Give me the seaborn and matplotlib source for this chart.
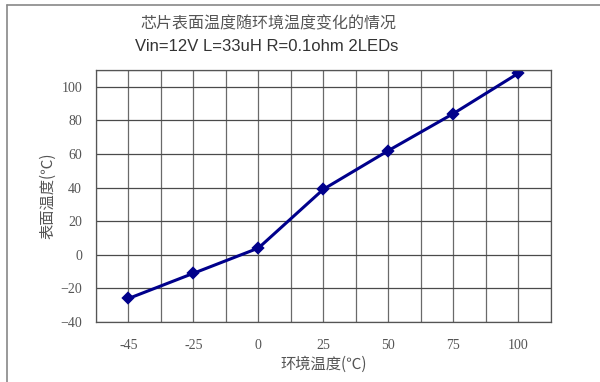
import matplotlib
matplotlib.use("Agg")
import matplotlib.pyplot as plt
from matplotlib.lines import Line2D
from matplotlib.ticker import MultipleLocator
import seaborn as sns
import pandas as pd

# ambient temperature categories and chip surface temperature
ambient = ["-45", "-25", "0", "25", "50", "75", "100"]
surface = [-26, -11, 4, 39, 62, 84, 108]
y_ticks = [-40, -20, 0, 20, 40, 60, 80, 100]

title_cn = "芯片表面温度随环境温度变化的情况"
title_en = "Vin=12V L=33uH R=0.1ohm 2LEDs"
xlabel = "环境温度(℃)"
ylabel = "表面温度(℃)"

sns.set_theme(style="white")
plt.rcParams["font.family"] = ["Noto Sans CJK SC", "DejaVu Sans"]

df = pd.DataFrame({"ambient": ambient, "surface": surface})

fig = plt.figure(figsize=(6.0, 3.82), dpi=100)
fig.patch.set_facecolor("white")
ax = fig.add_axes([0.16, 0.157, 0.758, 0.66])

sns.pointplot(data=df, x="ambient", y="surface", order=ambient,
              color="#00008B", markers="D", linestyles="-",
              markersize=5.5, linewidth=2.2, ax=ax)

ax.set_xlim(-0.5, 6.5)
ax.set_ylim(-40, 110)
ax.set_yticks(y_ticks)
ax.xaxis.set_minor_locator(MultipleLocator(0.5))

# grid: category centres and half-steps vertically, 20-degree steps horizontally
for xv in [i * 0.5 - 0.5 for i in range(15)]:
    ax.axvline(xv, color="#6a6a6a", lw=0.9, zorder=0)
for yv in y_ticks + [110]:
    ax.axhline(yv, color="#4a4a4a", lw=0.9, zorder=0)

for s in ax.spines.values():
    s.set_visible(True)
    s.set_color("#555555")
    s.set_linewidth(0.9)

ax.tick_params(axis="both", which="both", length=0)
ax.tick_params(axis="x", pad=12)
ax.tick_params(axis="y", pad=10)
for lab in ax.get_xticklabels() + ax.get_yticklabels():
    lab.set_family(["Liberation Serif", "DejaVu Serif"])
    lab.set_fontsize(10)
    lab.set_color("#555555")

ax.set_xlabel(xlabel, fontsize=11, color="#555555", labelpad=3)
ax.set_ylabel(ylabel, fontsize=11, color="#555555", labelpad=3)

fig.text(0.448, 0.937, title_cn, ha="center", va="center",
         fontsize=11.5, color="#555555")
fig.text(0.445, 0.877, title_en, ha="center", va="center",
         fontsize=12, color="#333333",
         family=["Liberation Sans", "DejaVu Sans"])

# outer frame lines along the left and top of the canvas
fig.add_artist(Line2D([7 / 600, 7 / 600], [0, 1 - 5 / 382],
                      transform=fig.transFigure, color="#888888", lw=1.2))
fig.add_artist(Line2D([7 / 600, 1], [1 - 5 / 382, 1 - 5 / 382],
                      transform=fig.transFigure, color="#888888", lw=1.2))

fig.savefig("out.png", dpi=100, facecolor="white")
